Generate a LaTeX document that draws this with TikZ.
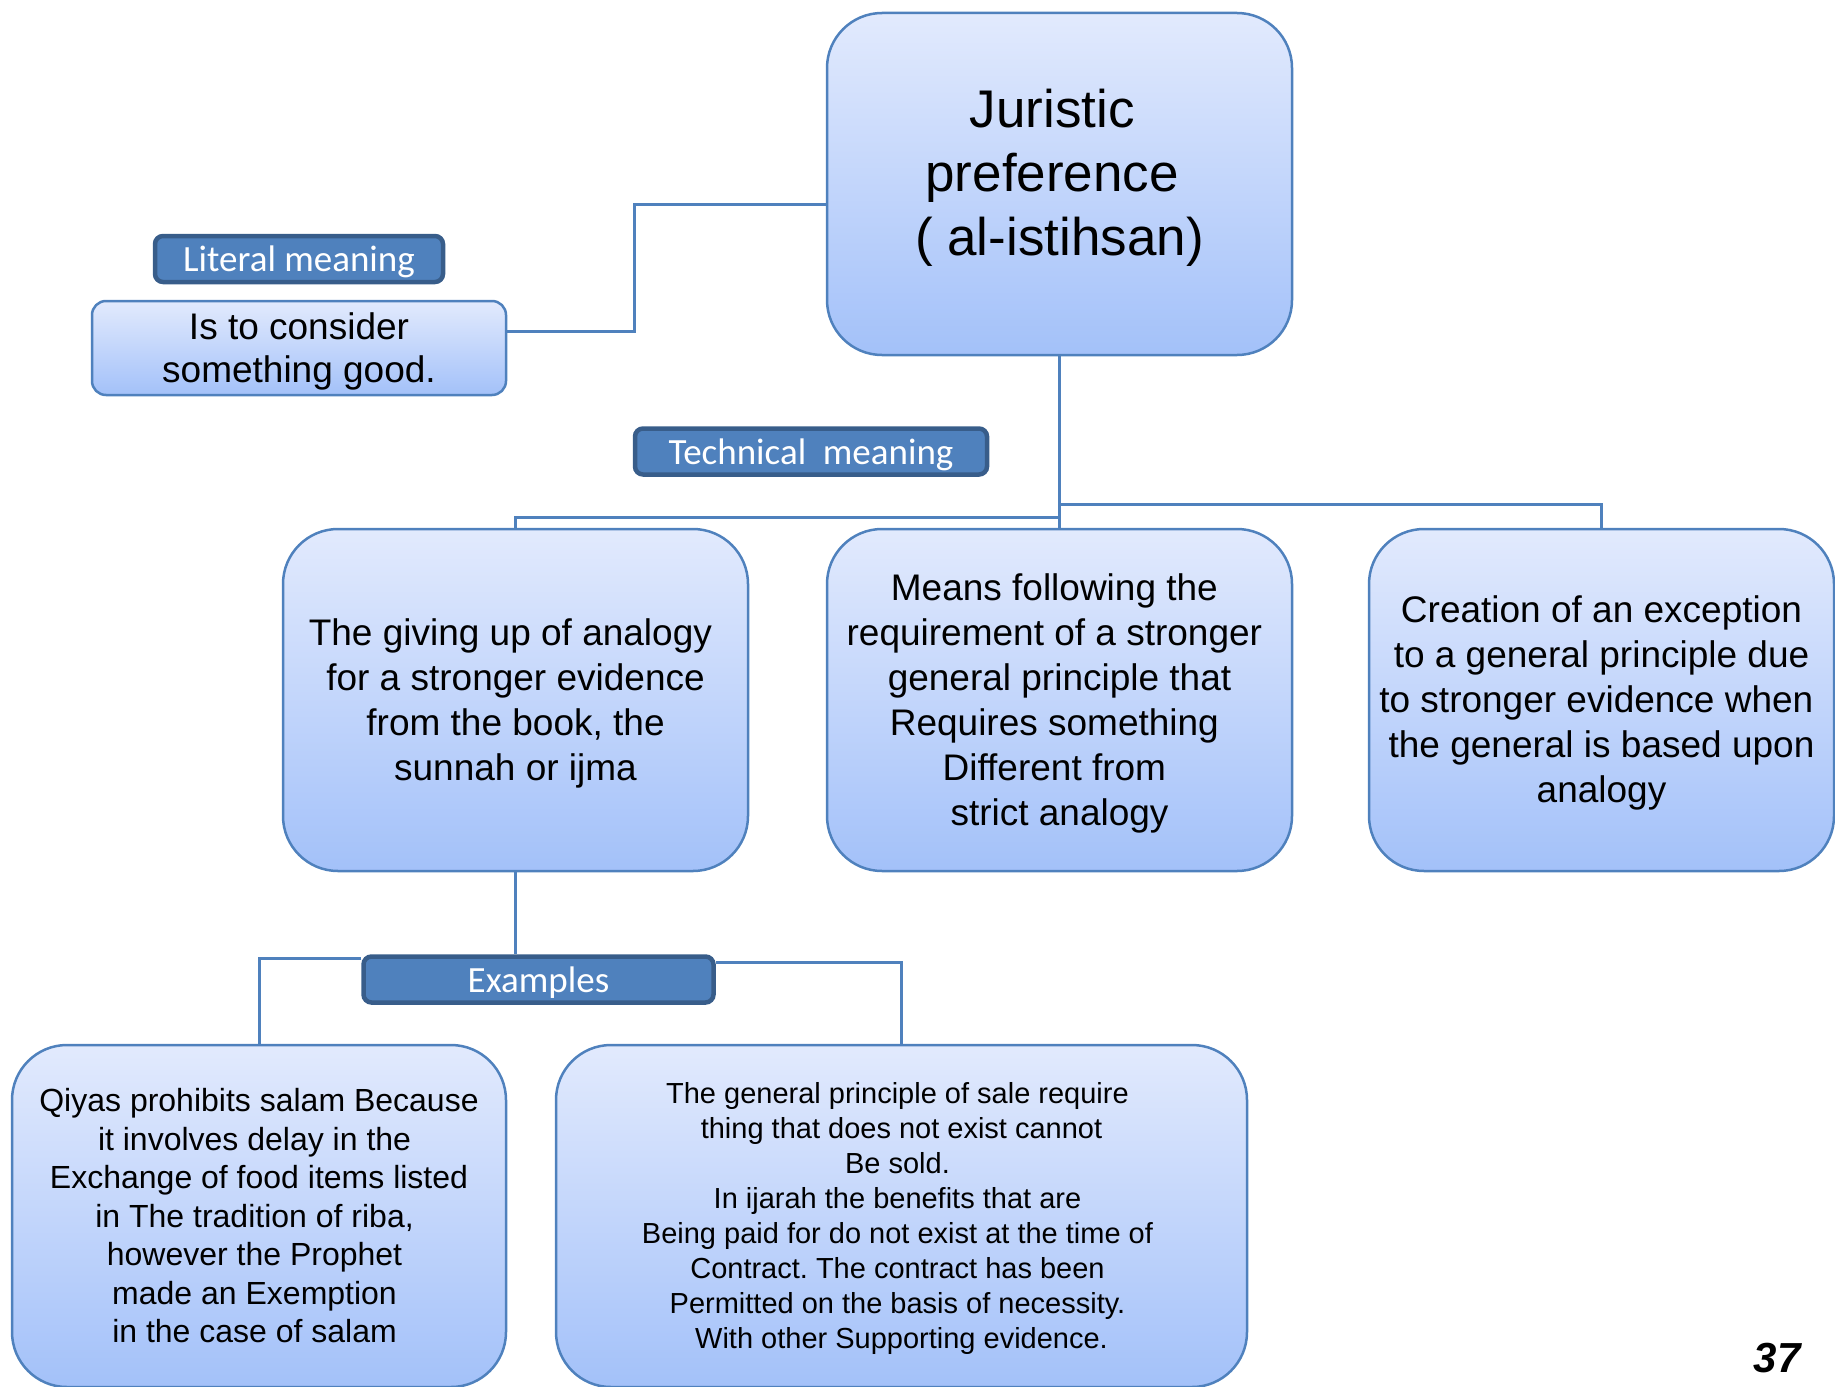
\documentclass[tikz,border=0pt]{standalone}
\usepackage{fontspec}
\setmainfont{Liberation Sans}
\newfontfamily\calibri{Carlito}
\frenchspacing
\definecolor{boxtop}{RGB}{226,234,253}
\definecolor{boxbot}{RGB}{163,193,249}
\definecolor{boxline}{RGB}{79,129,189}
\definecolor{labdark}{RGB}{56,93,138}
\newcommand{\tsp}{\kern.278em}
\newcommand{\bs}{\rule[-.212em]{0pt}{1.117em}}
\begin{document}
\begin{tikzpicture}[x=1pt, y=-1pt,
  box/.style={draw=boxline, line width=2.5pt, top color=boxtop, bottom color=boxbot, align=center, inner sep=0pt, rounded corners=55pt, minimum width=465, minimum height=342},
  lab/.style={draw=labdark, line width=4.5pt, fill=boxline, rounded corners=8pt, text=white, inner sep=0pt, minimum height=46, text height=32pt, text depth=7pt, font=\calibri\fontsize{37}{44}\selectfont},
  link/.style={draw=boxline, line width=3pt}]
\useasboundingbox (0,0) rectangle (1835,1386);
\node[box, execute at end node={\rule[-23pt]{0pt}{1pt}}, font=\fontsize{53}{64}\selectfont] (box0) at (1059.5,184) {Juristic\tsp\\preference\tsp\\( al-istihsan)};
\node[box, rounded corners=14pt, minimum width=414, minimum height=94, font=\fontsize{37}{43}\selectfont] (box1) at (299,348) {\bs Is to consider\\something good.\bs};
\node[lab, minimum width=288] (lab0) at (299,259) {Literal meaning};
\node[lab, minimum width=352] (lab1) at (811,451.5) {Technical\ \ meaning};
\node[box, font=\fontsize{37}{45}\selectfont] (box2) at (515.5,700) {\bs The giving up of analogy\tsp\\for a stronger evidence\\from the book, the\\sunnah or ijma\bs};
\node[box, font=\fontsize{37}{45}\selectfont] (box3) at (1059.5,700) {\bs Means following the\tsp\\requirement of a stronger\tsp\\general principle that\\Requires something\tsp\\Different from\tsp\\strict analogy\bs};
\node[box, font=\fontsize{37}{45}\selectfont] (box4) at (1601.5,700) {\bs Creation of an exception\\to a general principle due\\to stronger evidence when\tsp\\the general is based upon\\analogy\bs};
\node[lab, minimum width=350] (lab2) at (538.5,979.5) {Examples};
\node[box, minimum width=494, font=\fontsize{32}{38.5}\selectfont] (box5) at (259,1216) {\bs Qiyas prohibits salam Because\\it involves delay in the\tsp\\Exchange of food items listed\\in The tradition of riba,\tsp\\however the Prophet\tsp\\made an Exemption\tsp\\in the case of salam\tsp\bs};
\node[box, minimum width=691, font=\fontsize{29}{35}\selectfont] (box6) at (901.5,1216) {\bs The general principle of sale require\tsp\\thing that does not exist cannot\\Be sold.\tsp\\In ijarah the benefits that are\tsp\\Being paid for do not exist at the time of\tsp\\Contract. The contract has been\tsp\\Permitted on the basis of necessity.\tsp\\With other Supporting evidence.\bs};
\node[font=\bfseries\itshape\fontsize{42}{50}\selectfont] (page) at (1777,1358) {37};
% connectors
\draw[link] ([yshift=17pt]box1.east) -- ++(127,0) |- ([yshift=-20pt]box0.west);
\draw[link] (box0.south) -- (box3.north);
\draw[link] (box0.south) -- ++(0,161) -| (box2.north);
\draw[link] (box0.south) -- ++(0,148) -| (box4.north);
\draw[link] (box2.south) -- (box2.south |- lab2.north);
\draw[link] ([yshift=21pt]lab2.west) -| (box5.north);
\draw[link] ([yshift=17pt]lab2.east) -| (box6.north);
\end{tikzpicture}
\end{document}
